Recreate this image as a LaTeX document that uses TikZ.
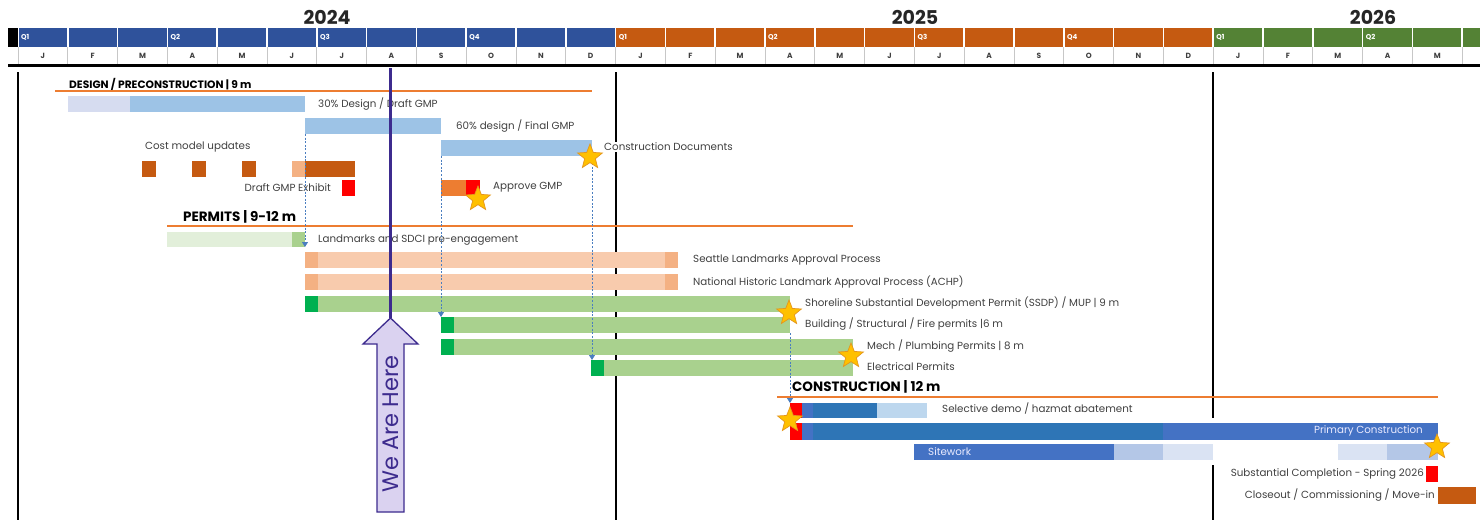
\documentclass[tikz,border=0pt]{standalone}
\usepackage{fontspec}
\setmainfont{Poppins}
\usetikzlibrary{shapes.geometric,arrows.meta}
\definecolor{hdrblue}{RGB}{47,82,155}
\definecolor{hdrorange}{RGB}{197,90,17}
\definecolor{hdrgreen}{RGB}{84,130,53}
\definecolor{lblgray}{RGB}{64,64,64}
\definecolor{secorange}{RGB}{237,125,49}
\definecolor{lav}{RGB}{214,220,240}
\definecolor{ltblue}{RGB}{157,195,230}
\definecolor{peach}{RGB}{244,177,131}
\definecolor{peachlt}{RGB}{248,203,173}
\definecolor{grnlt}{RGB}{226,239,218}
\definecolor{grn}{RGB}{169,209,142}
\definecolor{grndk}{RGB}{0,176,80}
\definecolor{cblue}{RGB}{46,117,182}
\definecolor{cblue2}{RGB}{68,114,196}
\definecolor{cblue3}{RGB}{180,199,231}
\definecolor{cblue4}{RGB}{218,227,243}
\definecolor{cblue5}{RGB}{189,215,238}
\definecolor{starfill}{RGB}{255,192,0}
\definecolor{stardraw}{RGB}{228,150,30}
\definecolor{dashblue}{RGB}{74,126,192}
\definecolor{wepurple}{RGB}{61,43,142}
\definecolor{welav}{RGB}{218,210,240}
\newcommand\lblfont{\fontsize{10.3}{12}\selectfont}
\newcommand\gb[6]{\node[bx,fill=#2,minimum width=#5pt,minimum height=#6pt] (#1) at (#3,#4) {};}
\tikzset{
  bx/.style={inner sep=0pt,outer sep=0pt,anchor=north west,draw=none},
  lbl/.style={anchor=west,inner sep=0pt,font=\lblfont,text=lblgray},
  lble/.style={anchor=east,inner sep=0pt,font=\lblfont,text=lblgray},
  sechead/.style={anchor=west,inner sep=0pt,font=\bfseries\fontsize{13.5}{15}\selectfont,text=black},
  secline/.style={secorange,line width=2pt},
  gridline/.style={black,line width=1.8pt},
  mstar/.style={star,star points=5,star point ratio=2.3,minimum size=26pt,inner sep=0pt,fill=starfill,draw=stardraw,line width=0.7pt},
  dasharr/.style={dashblue,line width=0.8pt,dash pattern=on 2pt off 1.6pt,-{Triangle[width=6pt,length=5pt]}},
  mth/.style={font=\bfseries\fontsize{7.5}{8}\selectfont,text=lblgray,inner sep=0pt},
  qlbl/.style={anchor=west,font=\bfseries\fontsize{7}{8}\selectfont,text=white,inner sep=0pt},
  yr/.style={font=\bfseries\fontsize{19}{21}\selectfont,text=black!85,inner sep=0pt}
}
\begin{document}
\begin{tikzpicture}[x=1pt,y=-1pt]
\useasboundingbox (0,0) rectangle (1480,520);
\fill[white] (0,0) rectangle (1480,520);
% ---------- header ----------
\node[yr] (y2024) at (327,17) {2024};
\node[yr] (y2025) at (915,17) {2025};
\node[yr] (y2026) at (1373,17) {2026};
\fill[black] (8,28) rectangle (18,47);
\foreach \m in {0,...,11} {\fill[hdrblue] ({18+49.8*\m+0.8},28) rectangle ({18+49.8*\m+49},47);}
\foreach \m in {12,...,23} {\fill[hdrorange] ({18+49.8*\m+0.8},28) rectangle ({18+49.8*\m+49},47);}
\foreach \m in {24,...,29} {\fill[hdrgreen] ({18+49.8*\m+0.8},28) rectangle ({18+49.8*\m+49},47);}
\foreach \m/\q in {0/Q1,3/Q2,6/Q3,9/Q4,12/Q1,15/Q2,18/Q3,21/Q4,24/Q1,27/Q2} {\node[qlbl] at ({18+49.8*\m+3},37.5) {\q};}
\foreach \m in {0,...,30} {\draw[black!22,line width=0.8pt] ({18+49.8*\m},47) -- ++(0,17);}
\foreach \l [count=\i from 0] in {J,F,M,A,M,J,J,A,S,O,N,D,J,F,M,A,M,J,J,A,S,O,N,D,J,F,M,A,M} {\node[mth] at ({18+49.8*(\i+0.5)},56) {\l};}
\draw[black,line width=2.2pt] (8,65.5) -- (1480,65.5);
% ---------- grid lines ----------
\draw[gridline] (18,72) -- (18,520);
\draw[gridline] (616,72) -- (616,520);
\draw[gridline] (1213,72) -- (1213,418);
\draw[gridline] (1213,465) -- (1213,520);
% ---------- design / preconstruction ----------
\node[sechead,font=\bfseries\fontsize{10.7}{12}\selectfont] (hdesign) at (69,84) {DESIGN / PRECONSTRUCTION | 9 m};
\draw[secline] (55,90.5) -- (592,90.5);
\gb{d30a}{lav}{68}{96}{62}{16}
\gb{d30b}{ltblue}{130}{96}{175}{16}
\node[lbl] (l30) at (318,104) {30\% Design / Draft GMP};
\gb{b60}{ltblue}{305}{118}{136}{16}
\node[lbl] (l60) at (456,126) {60\% design / Final GMP};
\gb{bcd}{ltblue}{441}{140}{151}{16}
\node[lbl,fill=white,inner sep=1pt] (lcd) at (603,147) {Construction Documents};
\node[lbl] (lcost) at (145,147) {Cost model updates};
\gb{cm1}{hdrorange}{142}{161}{14}{16}
\gb{cm2}{hdrorange}{192}{161}{14}{16}
\gb{cm3}{hdrorange}{242}{161}{14}{16}
\gb{cm4}{peach}{292}{161}{13}{16}
\gb{cm5}{hdrorange}{305}{161}{50}{16}
\node[lble] (ldraft) at (331,188) {Draft GMP Exhibit};
\gb{dgx}{red}{342}{180}{13}{16}
\gb{apg1}{secorange}{441}{180}{25}{16}
\gb{apg2}{red}{466}{180}{14}{16}
\node[lbl] (lapg) at (493,187) {Approve GMP};
% ---------- permits ----------
\node[sechead] (hpermits) at (183,217) {PERMITS | 9-12 m};
\draw[secline] (167,225.5) -- (853,225.5);
\gb{land1}{grnlt}{167}{232}{125}{15}
\gb{land2}{grn}{292}{232}{13}{15}
\node[lbl] (lland) at (318,240) {Landmarks and SDCI pre-engagement};
\gb{sea}{peachlt}{305}{252}{373}{16}
\gb{seaA}{peach}{305}{252}{13}{16}
\gb{seaB}{peach}{665}{252}{13}{16}
\node[lbl] (lsea) at (693,260) {Seattle Landmarks Approval Process};
\gb{nhl}{peachlt}{305}{274}{373}{16}
\gb{nhlA}{peach}{305}{274}{13}{16}
\gb{nhlB}{peach}{665}{274}{13}{16}
\node[lbl] (lnhl) at (693,282) {National Historic Landmark Approval Process (ACHP)};
\gb{ssdp}{grn}{305}{296}{485}{16}
\gb{ssdpS}{grndk}{305}{296}{13}{16}
\node[lbl] (lssdp) at (805,303) {Shoreline Substantial Development Permit (SSDP) / MUP | 9 m};
\gb{bld}{grn}{441}{317}{349}{16}
\gb{bldS}{grndk}{441}{317}{13}{16}
\node[lbl] (lbld) at (805,324) {Building / Structural / Fire permits |6 m};
\gb{mech}{grn}{441}{339}{412}{16}
\gb{mechS}{grndk}{441}{339}{13}{16}
\node[lbl] (lmech) at (867,346) {Mech / Plumbing Permits | 8 m};
\gb{elec}{grn}{591}{360}{262}{16}
\gb{elecS}{grndk}{591}{360}{13}{16}
\node[lbl] (lelec) at (867,367) {Electrical Permits};
% ---------- construction ----------
\node[sechead] (hcons) at (792,387) {CONSTRUCTION | 12 m};
\draw[secline] (777,396.5) -- (1438,396.5);
\gb{demoR}{red}{790}{403}{12}{15}
\gb{demoA}{cblue2}{802}{403}{11}{15}
\gb{demoB}{cblue}{813}{403}{64}{15}
\gb{demoC}{cblue5}{877}{403}{50}{15}
\node[lbl] (ldemo) at (942,409) {Selective demo / hazmat abatement};
\gb{primR}{red}{790}{423}{12}{17}
\gb{primA}{cblue2}{802}{423}{11}{17}
\gb{primB}{cblue}{813}{423}{350}{17}
\gb{primC}{cblue2}{1163}{423}{275}{17}
\node[lble,text=white!92!blue] (lprim) at (1423,431) {Primary Construction};
\gb{siteA}{cblue2}{914}{444}{200}{16}
\gb{siteB}{cblue3}{1114}{444}{49}{16}
\gb{siteC}{cblue4}{1163}{444}{50}{16}
\gb{siteD}{cblue4}{1338}{444}{49}{16}
\gb{siteE}{cblue3}{1387}{444}{51}{16}
\node[lbl,text=white!92!blue] (lsite) at (928,452) {Sitework};
\node[lble] (lsubst) at (1424,474) {Substantial Completion - Spring 2026};
\gb{subst}{red}{1426}{466}{12}{16}
\node[lble] (lclose) at (1435,495) {Closeout / Commissioning / Move-in};
\gb{close}{hdrorange}{1438}{487}{38}{17}
% ---------- dashed dependency arrows ----------
\draw[dasharr] (b60.south west) -- (land2.south east);
\draw[dasharr] (bcd.south west) -- (bldS.north west);
\draw[dasharr] (bcd.south east) -- (bcd.south east |- elecS.north);
\draw[dasharr] (bld.south east) -- (demoR.north west);
% ---------- stars ----------
\node[mstar] (s1) at (590,157) {};
\node[mstar] (s2) at (478,199) {};
\node[mstar] (s3) at (789,313) {};
\node[mstar] (s4) at (851,356) {};
\node[mstar] (s5) at (790,420) {};
\node[mstar] (s6) at (1437,447) {};
% ---------- we are here ----------
\coordinate (wetop) at (390.5,68);
\coordinate (wetip) at (390.5,318);
\draw[wepurple,line width=3.5pt] (wetop) -- (wetip);
\draw[wepurple,fill=welav,line width=1.3pt,line join=miter] (wetip) -- (418,344) -- (404,344) -- (404,512) -- (377,512) -- (377,344) -- (363,344) -- cycle;
\node[rotate=90,text=wepurple,font=\fontsize{22.5}{24}\selectfont,inner sep=0pt] (we) at (390.5,424) {We Are Here};
\end{tikzpicture}
\end{document}
